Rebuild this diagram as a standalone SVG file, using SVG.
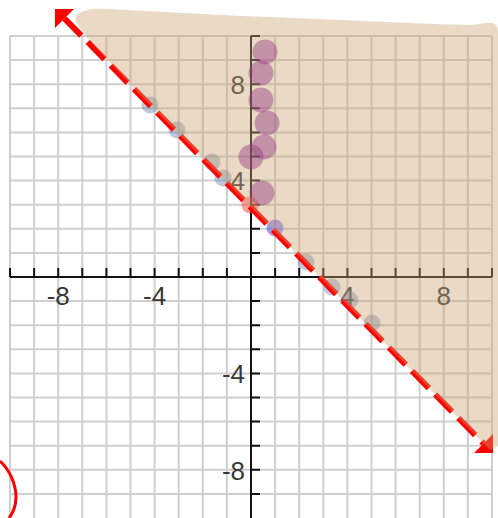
<svg xmlns="http://www.w3.org/2000/svg" width="498" height="518" viewBox="0 0 498 518">
<style>
.grid{stroke:#cfcfcf;stroke-width:2;fill:none}
.axis{stroke:#111;stroke-width:2;fill:none}
.lbl{font-family:"Liberation Sans",Arial,sans-serif;font-size:26px;fill:#383838}
.xl{text-anchor:middle}
.yl{text-anchor:end}
.pt{fill:rgb(90,120,170);fill-opacity:0.4}
.big{fill:rgb(150,60,130);fill-opacity:0.45}
.bound{stroke:#ff0000;stroke-width:6;stroke-dasharray:24 9;fill:none}
.arrow{fill:#ff0000}
.shade{fill:rgb(200,160,110);fill-opacity:0.4}
</style>
<rect x="0" y="0" width="498" height="518" fill="#ffffff"/>
<g id="grid">
<path class="grid" d="M10,36V518M34.1,36V518M58.2,36V518M82.3,36V518M106.4,36V518M130.5,36V518M154.6,36V518M178.7,36V518M202.8,36V518M226.9,36V518M275.1,36V518M299.2,36V518M323.3,36V518M347.4,36V518M371.5,36V518M395.6,36V518M419.7,36V518M443.8,36V518M467.9,36V518M492,36V518
M10,36H492M10,60.1H492M10,84.2H492M10,108.3H492M10,132.4H492M10,156.5H492M10,180.6H492M10,204.7H492M10,228.8H492M10,252.9H492M10,301.1H492M10,325.2H492M10,349.3H492M10,373.4H492M10,397.5H492M10,421.6H492M10,445.7H492M10,469.8H492M10,493.9H492"/>
</g>
<g id="axes">
<path class="axis" d="M10,277H492M251,36V518"/>
<path class="axis" d="M10,277V268M34.1,277V268M58.2,277V268M82.3,277V268M106.4,277V268M130.5,277V268M154.6,277V268M178.7,277V268M202.8,277V268M226.9,277V268M275.1,277V268M299.2,277V268M323.3,277V268M347.4,277V268M371.5,277V268M395.6,277V268M419.7,277V268M443.8,277V268M467.9,277V268M492,277V268
M251,36H260M251,60.1H260M251,84.2H260M251,108.3H260M251,132.4H260M251,156.5H260M251,180.6H260M251,204.7H260M251,228.8H260M251,252.9H260M251,301.1H260M251,325.2H260M251,349.3H260M251,373.4H260M251,397.5H260M251,421.6H260M251,445.7H260M251,469.8H260M251,493.9H260"/>
</g>
<g id="labels">
<text class="lbl xl" x="58.2" y="304.5">-8</text>
<text class="lbl xl" x="154.6" y="304.5">-4</text>
<text class="lbl xl" x="347.4" y="304.5">4</text>
<text class="lbl xl" x="443.8" y="304.5">8</text>
<text class="lbl yl" x="245" y="93.5">8</text>
<text class="lbl yl" x="245" y="190">4</text>
<text class="lbl yl" x="245" y="383">-4</text>
<text class="lbl yl" x="245" y="479.5">-8</text>
</g>
<g id="points">
<circle class="pt" cx="150" cy="105" r="8.5"/>
<circle class="pt" cx="177" cy="130" r="8.5"/>
<circle class="pt" cx="212" cy="162" r="8.5"/>
<circle class="pt" cx="223" cy="178" r="8.5"/>
<circle class="pt" cx="306" cy="262" r="8.5"/>
<circle class="pt" cx="332" cy="287" r="8.5"/>
<circle class="pt" cx="350" cy="300" r="8.5"/>
<circle class="pt" cx="372" cy="323" r="8.5"/>
<circle cx="250" cy="205" r="8.5" fill="rgb(255,60,60)" fill-opacity="0.5"/>
<circle cx="275" cy="228" r="8.5" fill="rgb(70,60,230)" fill-opacity="0.5"/>
</g>
<g id="connectors">
<path class="bound" d="M64.5,18.5L483.5,443.5"/>
<polygon class="arrow" points="55,9 74,9 55,28"/>
<polygon class="arrow" points="493,453 474,453 493,434"/>
</g>
<g id="shading">
<path class="shade" d="M78,14C84,9 96,8 108,9L240,16C330,19 420,24 470,25C480,25 486,22 492,23Q498,24 498,32L498,446L490,450L147,102C140,95 128,82 117,70C105,57 90,42 80,28C75,22 74,17 78,14Z"/>
</g>
<g id="marks">
<circle class="big" cx="265" cy="52" r="12.5"/>
<circle class="big" cx="261" cy="73" r="12.5"/>
<circle class="big" cx="261" cy="100" r="12.5"/>
<circle class="big" cx="267" cy="123" r="12.5"/>
<circle class="big" cx="264" cy="147" r="12.5"/>
<circle class="big" cx="251" cy="157" r="12.5"/>
<circle class="big" cx="262" cy="193" r="12.5"/>
<path d="M0,461C10,470 16,485 16,497C16,506 13,513 9,518" stroke="#ff0000" stroke-width="3" fill="none"/>
</g>
</svg>
